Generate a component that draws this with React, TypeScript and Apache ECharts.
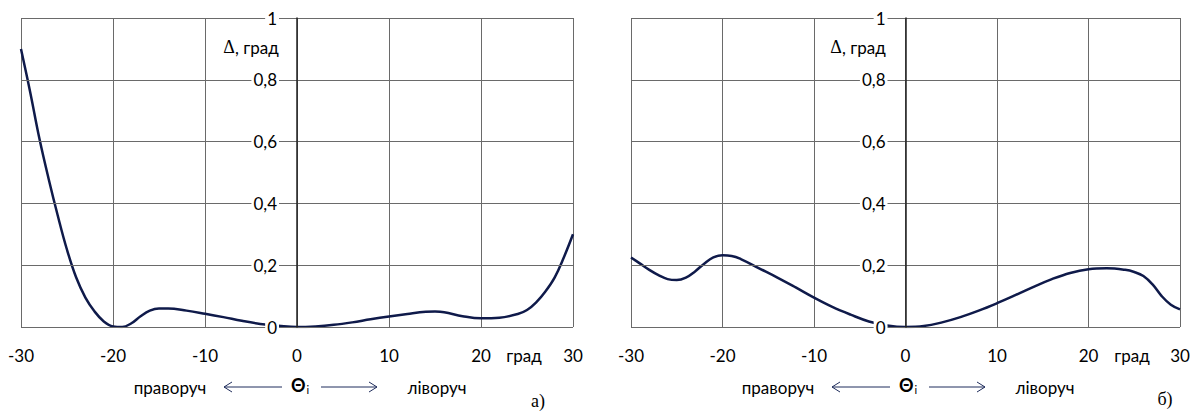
import React, { useEffect, useRef } from "react";
import * as echarts from "echarts";

// Panel а)
const thetaA = [-30, -29, -28, -27, -26, -25, -24, -23, -22, -21, -20, -19, -18, -17, -16, -15, -14, -12, -10, -8, -6, -4, -2, 0, 2, 4, 6, 8, 10, 12, 14, 15, 16, 18, 20, 22, 24, 25, 26, 27, 28, 29, 30];
const deltaA = [0.9, 0.76, 0.61, 0.48, 0.36, 0.25, 0.16, 0.095, 0.05, 0.018, 0.002, 0.0, 0.012, 0.035, 0.053, 0.06, 0.06, 0.053, 0.043, 0.032, 0.02, 0.01, 0.004, 0.0, 0.002, 0.007, 0.015, 0.025, 0.034, 0.042, 0.049, 0.05, 0.048, 0.035, 0.028, 0.03, 0.042, 0.055, 0.08, 0.115, 0.16, 0.225, 0.3];

// Panel б)
const thetaB = [-30, -29, -28, -27, -26, -25, -24, -23, -22, -21, -20, -19, -18, -16, -14, -12, -10, -8, -6, -4, -2, 0, 2, 4, 6, 8, 10, 12, 14, 16, 18, 20, 22, 24, 25, 26, 27, 28, 29, 30];
const deltaB = [0.225, 0.205, 0.185, 0.168, 0.155, 0.152, 0.16, 0.18, 0.205, 0.225, 0.232, 0.23, 0.22, 0.19, 0.16, 0.128, 0.095, 0.065, 0.04, 0.018, 0.005, 0.0, 0.003, 0.015, 0.032, 0.053, 0.077, 0.103, 0.13, 0.155, 0.175, 0.187, 0.19, 0.185, 0.178, 0.165, 0.138, 0.1, 0.072, 0.057];

const xTicks = [-30, -20, -10, 0, 10, 20, 30];
const yTicks = [0, 0.2, 0.4, 0.6, 0.8, 1];

const FONT = "Lato, 'Open Sans', sans-serif";
const LINE = "#0f1a4a";
const ARROW = "#1f2d5c";
const GRID_COLOR = "#6a6a6a";

function xAxisOpt(gridIndex: number) {
  return {
    type: "value",
    gridIndex,
    min: xTicks[0],
    max: xTicks[xTicks.length - 1],
    interval: 10,
    axisLine: { show: false },
    axisTick: { show: false },
    axisLabel: { color: "#000", fontSize: 17, fontFamily: FONT, margin: 20 },
    splitLine: { show: true, lineStyle: { color: GRID_COLOR, width: 1 } },
  };
}

function yAxisOpt(gridIndex: number, offset: number) {
  return {
    type: "value",
    gridIndex,
    position: "left",
    offset,
    min: yTicks[0],
    max: yTicks[yTicks.length - 1],
    interval: 0.2,
    axisLine: { show: true, onZero: false, lineStyle: { color: "#222", width: 1.5 } },
    axisTick: { show: false },
    axisLabel: {
      color: "#000",
      fontSize: 17,
      fontFamily: FONT,
      margin: 18,
      backgroundColor: "#fff",
      padding: [0, 2, 0, 2],
      formatter: (v: number) => String(Math.round(v * 10) / 10).replace(".", ","),
    },
    splitLine: { show: true, lineStyle: { color: GRID_COLOR, width: 1 } },
    z: 5,
  };
}

function text(x: number, y: number, t: string, extra: any = {}) {
  return {
    type: "text",
    x,
    y,
    style: {
      text: t,
      fill: "#000",
      font: `17px ${FONT}`,
      align: "center",
      verticalAlign: "middle",
      ...extra,
    },
    z: 10,
  };
}

function panelGraphics(dx: number, letter: string, letterX: number, letterY: number, unitX: number, deltaX: number) {
  const y = 387;
  return [
    text(unitX, 355, "град"),
    {
      type: "text",
      x: deltaX,
      y: 47,
      style: {
        text: "{d|Δ}{s|, град}",
        align: "center",
        verticalAlign: "middle",
        rich: {
          d: { font: "18px 'Liberation Serif', serif", fill: "#000" },
          s: { font: `17px ${FONT}`, fill: "#000" },
        },
      },
      z: 10,
    },
    text(170 + dx, y, "праворуч"),
    text(437 + dx, y, "ліворуч"),
    {
      type: "text",
      x: 300 + dx,
      y: y - 2,
      style: {
        text: "{t|Θ}{i|i}",
        align: "center",
        verticalAlign: "middle",
        rich: {
          t: { font: `bold 18px ${FONT}`, fill: "#000" },
          i: { font: `11px ${FONT}`, fill: "#000", verticalAlign: "bottom", padding: [8, 0, 0, 1] },
        },
      },
      z: 10,
    },
    { type: "line", shape: { x1: 224 + dx, y1: y, x2: 282 + dx, y2: y }, style: { stroke: ARROW, lineWidth: 1 } },
    { type: "polyline", shape: { points: [[232 + dx, y - 5], [224 + dx, y], [232 + dx, y + 5]] }, style: { stroke: ARROW, lineWidth: 1, fill: null } },
    { type: "line", shape: { x1: 321 + dx, y1: y, x2: 377 + dx, y2: y }, style: { stroke: ARROW, lineWidth: 1 } },
    { type: "polyline", shape: { points: [[369 + dx, y - 5], [377 + dx, y], [369 + dx, y + 5]] }, style: { stroke: ARROW, lineWidth: 1, fill: null } },
    text(letterX, letterY, letter, { font: "18px 'Liberation Serif', serif" }),
  ];
}

export default function App() {
  const ref = useRef<HTMLDivElement>(null);
  useEffect(() => {
    document.body.style.margin = "0";
    if (!ref.current) return;
    const chart = echarts.init(ref.current, null, { renderer: "svg" });
    chart.setOption({
      animation: false,
      backgroundColor: "#fff",
      grid: [
        { left: 21, top: 18, width: 552, height: 309 },
        { left: 631, top: 18, width: 549, height: 309 },
      ],
      xAxis: [xAxisOpt(0), xAxisOpt(1)],
      yAxis: [yAxisOpt(0, -276), yAxisOpt(1, -274.5)],
      series: [
        {
          type: "line",
          xAxisIndex: 0,
          yAxisIndex: 0,
          data: thetaA.map((x, i) => [x, deltaA[i]]),
          smooth: 0.4,
          showSymbol: false,
          lineStyle: { color: LINE, width: 2.5 },
          z: 3,
        },
        {
          type: "line",
          xAxisIndex: 1,
          yAxisIndex: 1,
          data: thetaB.map((x, i) => [x, deltaB[i]]),
          smooth: 0.4,
          showSymbol: false,
          lineStyle: { color: LINE, width: 2.5 },
          z: 3,
        },
      ],
      graphic: [
        ...panelGraphics(0, "а)", 538, 401, 524, 251),
        ...panelGraphics(608, "б)", 1165, 399, 1132, 858),
      ],
    });
    return () => chart.dispose();
  }, []);
  return <div ref={ref} style={{ position: "absolute", left: 0, top: 0, width: 1198, height: 412 }} />;
}
